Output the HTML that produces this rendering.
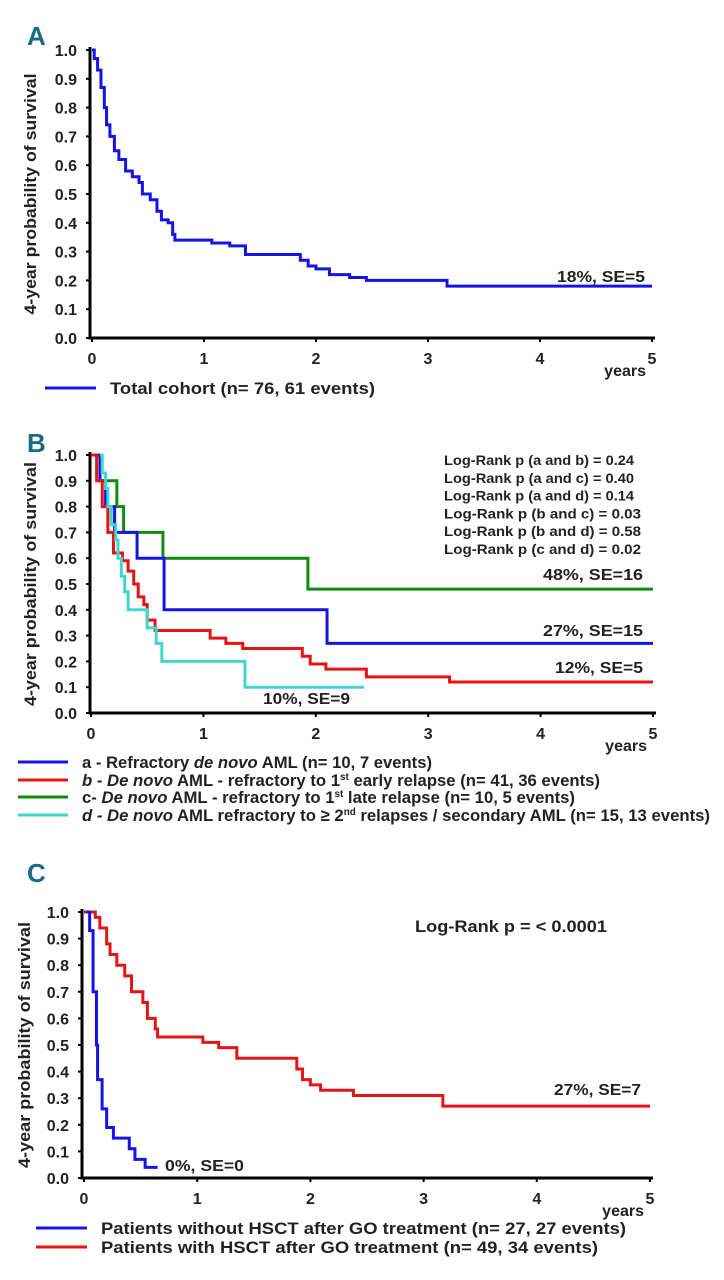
<!DOCTYPE html>
<html><head><meta charset="utf-8"><style>
body{margin:0;background:#fff;}
svg{display:block;font-family:"Liberation Sans",sans-serif;font-weight:bold;}
</style></head><body>
<svg id="fig" width="724" height="1280" viewBox="0 0 724 1280"></svg>
<script>
// Panel A data
const aTimes=[0,0.02,0.05,0.08,0.11,0.13,0.16,0.2,0.24,0.3,0.36,0.42,0.45,0.52,0.58,0.62,0.68,0.72,0.74,1.07,1.23,1.37,1.86,1.93,2.0,2.12,2.3,2.45,3.17];
const aSurv =[1,0.97,0.93,0.87,0.80,0.74,0.70,0.65,0.62,0.58,0.56,0.54,0.50,0.48,0.44,0.41,0.40,0.36,0.34,0.33,0.32,0.29,0.27,0.25,0.24,0.22,0.21,0.20,0.18];
// Panel B data
const bATimes=[0.03,0.08,0.13,0.21,0.41,0.65,2.1];
const bASurv =[1,0.9,0.8,0.7,0.6,0.4,0.27];
const bBTimes=[0,0.05,0.1,0.15,0.2,0.28,0.33,0.38,0.42,0.47,0.5,0.57,1.06,1.2,1.35,1.88,1.95,2.09,2.45,3.19];
const bBSurv =[1,0.9,0.8,0.7,0.62,0.59,0.55,0.5,0.45,0.42,0.36,0.32,0.29,0.27,0.25,0.22,0.19,0.17,0.14,0.12];
const bCTimes=[0.02,0.08,0.23,0.29,0.64,1.93];
const bCSurv =[1,0.9,0.8,0.7,0.6,0.48];
const bDTimes=[0.08,0.1,0.13,0.15,0.18,0.22,0.24,0.27,0.3,0.33,0.5,0.58,0.63,1.37];
const bDSurv =[1,0.93,0.87,0.8,0.73,0.67,0.6,0.53,0.47,0.4,0.33,0.27,0.2,0.1];
// Panel C data
const cBlueTimes=[0.02,0.05,0.08,0.11,0.12,0.16,0.2,0.26,0.4,0.45,0.54];
const cBlueSurv =[1,0.93,0.7,0.5,0.37,0.26,0.19,0.15,0.11,0.07,0.04];
const cRedTimes=[0,0.1,0.14,0.2,0.23,0.29,0.36,0.42,0.52,0.56,0.63,0.65,1.05,1.19,1.35,1.88,1.93,2.0,2.09,2.38,3.17];
const cRedSurv =[1,0.98,0.94,0.88,0.84,0.8,0.76,0.7,0.66,0.6,0.56,0.53,0.51,0.49,0.45,0.41,0.37,0.35,0.33,0.31,0.27];
const xTicks=["0","1","2","3","4","5"];
const yTicks=["0.0","0.1","0.2","0.3","0.4","0.5","0.6","0.7","0.8","0.9","1.0"];

const NS="http://www.w3.org/2000/svg";
const svg=document.getElementById('fig');
function el(tag,attrs,parent){const e=document.createElementNS(NS,tag);for(const k in attrs)e.setAttribute(k,attrs[k]);(parent||svg).appendChild(e);return e;}

function panel(P,name){
  const g=el('g',{});
  
  
  const X=t=>P.x0+t*P.xs, Y=s=>P.y0-s*P.ys*10;
  const ax=el('path',{d:`M${P.ax} ${Y(1)-3} V${P.y0} H${X(5)+3}`,stroke:'#000','stroke-width':3,fill:'none'},g);
  
  
  yTicks.forEach((lab,i)=>{
    const v=i/10;
    el('line',{x1:P.ax-4,x2:P.ax,y1:Y(v),y2:Y(v),stroke:'#000','stroke-width':2},g);
    const t=el('text',{x:P.ax-13,y:Y(v)+6,'text-anchor':'end','font-size':16,fill:'#222'},g);t.textContent=lab;
    
    
  });
  xTicks.forEach((lab,i)=>{
    el('line',{x1:X(i),x2:X(i),y1:P.y0,y2:P.y0+4,stroke:'#000','stroke-width':2},g);
    const t=el('text',{x:X(i),y:P.y0+26,'text-anchor':'middle','font-size':16,fill:'#222'},g);t.textContent=lab;
    
    
  });
  const yr=el('text',{x:X(5)-6,y:P.y0+38,'text-anchor':'end','font-size':16,fill:'#222'},g);yr.textContent='years';
  
  
  const yt=el('text',{x:0,y:0,transform:`translate(${P.ytx},${(Y(1)+P.y0)/2}) rotate(-90)`,'text-anchor':'middle','font-size':17,fill:'#222',textLength:P.ytl,lengthAdjust:'spacingAndGlyphs'},g);
  yt.textContent='4-year probability of survival';
  
  
  const pl=el('text',{x:P.lx,y:P.ly,'font-size':26,fill:'#1a6a8a','font-family':'"Liberation Sans Narrow","Liberation Sans",sans-serif'},g);
  pl.textContent=P.label;
  
  
  return {g,X,Y};
}
function curve(p,times,surv,end,color,name){
  let d=`M${p.X(times[0])} ${p.Y(surv[0])}`;
  for(let i=1;i<times.length;i++){d+=` H${p.X(times[i])} V${p.Y(surv[i])}`;}
  d+=` H${p.X(end)}`;
  const e=el('path',{d,stroke:color,'stroke-width':3,fill:'none'},p.g);
  
  
}
function txt(p,x,y,s,size,anchor,name,len){
  const a={x,y,'font-size':size,'text-anchor':anchor||'start',fill:'#222'};
  if(len){a.textLength=len;a.lengthAdjust='spacingAndGlyphs';}
  const t=el('text',a,p.g);t.innerHTML=s;
  
  
  return t;
}
function legend(p,x1,x2,y,color,html,name,len){
  el('line',{x1,x2,y1:y,y2:y,stroke:color,'stroke-width':3},p.g);
  txt(p,x2+14,y+6,html,17,'start',name,len);
}

const BLUE='#1414e6',RED='#e61414',GREEN='#118a11',CYAN='#3fd8cf';
// A
const pA=panel({x0:92,xs:112,y0:338,ys:28.8,ax:90,ytx:36,ytl:241,lx:27,ly:45,label:'A'},'panel-a');
curve(pA,aTimes,aSurv,5,BLUE,'total-cohort-curve');
txt(pA,645,282,'18%, SE=5',16,'end','annotation-18pct',88);
legend(pA,45,96,388,BLUE,'Total cohort (n= 76, 61 events)','legend-total-cohort',265);
// B
const pB=panel({x0:91,xs:112.4,y0:713,ys:25.8,ax:90,ytx:36,ytl:244,lx:27,ly:452,label:'B'},'panel-b');
curve(pB,bCTimes,bCSurv,5,GREEN,'curve-c');
curve(pB,bATimes,bASurv,5,BLUE,'curve-a');
curve(pB,bBTimes,bBSurv,5,RED,'curve-b');
curve(pB,bDTimes,bDSurv,2.43,CYAN,'curve-d');
['Log-Rank p (a and b) = 0.24','Log-Rank p (a and c) = 0.40','Log-Rank p (a and d) = 0.14','Log-Rank p (b and c) =  0.03','Log-Rank p (b and d) =  0.58','Log-Rank p (c and d) =  0.02'].forEach((s,i)=>{
  txt(pB,444,465+i*17.8,s,14,'start','log-rank-line',i<3?190:197);
});
txt(pB,643,580,'48%, SE=16',16,'end','annotation-48pct',100);
txt(pB,643,636,'27%, SE=15',16,'end','annotation-27pct',100);
txt(pB,643,673,'12%, SE=5',16,'end','annotation-12pct',88);
txt(pB,263,704,'10%, SE=9',16,'start','annotation-10pct',87);
legend(pB,18,68,762,BLUE,'a - Refractory <tspan font-style="italic">de novo</tspan> AML (n= 10, 7 events)','legend-a',350);
legend(pB,18,68,780,RED,'<tspan font-style="italic">b - De novo</tspan> AML - refractory to 1<tspan font-size="10" dy="-6">st</tspan><tspan dy="6"> early relapse (n= 41, 36 events)</tspan>','legend-b',518);
legend(pB,18,68,797,GREEN,'c- <tspan font-style="italic">De novo</tspan> AML - refractory to 1<tspan font-size="10" dy="-6">st</tspan><tspan dy="6"> late relapse (n= 10, 5 events)</tspan>','legend-c',493);
legend(pB,18,68,815,CYAN,'<tspan font-style="italic">d - De novo</tspan> AML refractory to ≥ 2<tspan font-size="10" dy="-6">nd</tspan><tspan dy="6"> relapses / secondary AML (n= 15, 13 events)</tspan>','legend-d',628);
// C
const pC=panel({x0:84,xs:113.2,y0:1178,ys:26.6,ax:82,ytx:30,ytl:246,lx:27,ly:882,label:'C'},'panel-c');
curve(pC,cRedTimes,cRedSurv,5,RED,'with-hsct-curve');
curve(pC,cBlueTimes,cBlueSurv,0.65,BLUE,'without-hsct-curve');
txt(pC,415,932,'Log-Rank p = &lt; 0.0001',17,'start','log-rank-c',192);
txt(pC,641,1095,'27%, SE=7',16,'end','annotation-27pct-c',87);
txt(pC,165,1171,'0%, SE=0',16,'start','annotation-0pct',79);
legend(pC,36,87,1228,BLUE,'Patients without HSCT after GO treatment (n= 27, 27 events)','legend-without-hsct',525);
legend(pC,36,87,1247,RED,'Patients with HSCT after GO treatment (n= 49, 34 events)','legend-with-hsct',497);
</script>
</body></html>
